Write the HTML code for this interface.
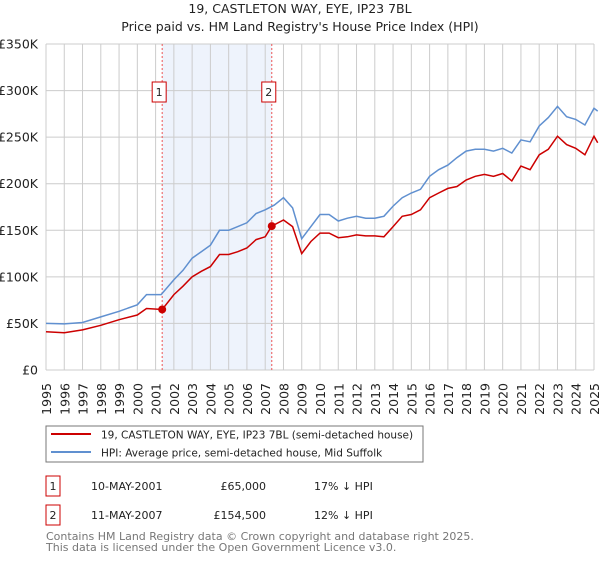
<!DOCTYPE html>
<html><head><meta charset="utf-8"><style>
body{margin:0;background:#fff;font-family:"Liberation Sans","DejaVu Sans",sans-serif;}
svg text{font-family:"DejaVu Sans","Liberation Sans",sans-serif;}
</style></head><body>
<svg id="chart" width="600" height="560" xmlns="http://www.w3.org/2000/svg">
<text x="300" y="13" text-anchor="middle" font-size="12.5" fill="#222">19, CASTLETON WAY, EYE, IP23 7BL</text>
<text x="300" y="31" text-anchor="middle" font-size="12.5" fill="#222">Price paid vs. HM Land Registry's House Price Index (HPI)</text>
<g id="plot"></g>
<g>
<rect x="46" y="426" width="377" height="36" fill="#fff" stroke="#777"/>
<line x1="51" y1="434" x2="91" y2="434" stroke="#cc0000" stroke-width="2"/>
<text x="101" y="438.5" font-size="10.5" fill="#222">19, CASTLETON WAY, EYE, IP23 7BL (semi-detached house)</text>
<line x1="51" y1="452" x2="91" y2="452" stroke="#6090d0" stroke-width="2"/>
<text x="101" y="456.5" font-size="10.5" fill="#222">HPI: Average price, semi-detached house, Mid Suffolk</text>
</g>
<g font-size="11" fill="#222">
<rect x="46" y="476" width="14" height="20" fill="#fff" stroke="#cc0000"/>
<text x="53" y="490" text-anchor="middle">1</text>
<text x="91" y="490">10-MAY-2001</text>
<text x="266" y="490" text-anchor="end">£65,000</text>
<text x="314" y="490">17% ↓ HPI</text>
<rect x="46" y="505" width="14" height="20" fill="#fff" stroke="#cc0000"/>
<text x="53" y="519" text-anchor="middle">2</text>
<text x="91" y="519">11-MAY-2007</text>
<text x="266" y="519" text-anchor="end">£154,500</text>
<text x="314" y="519">12% ↓ HPI</text>
</g>
<text x="46" y="540" font-size="11" fill="#777">Contains HM Land Registry data © Crown copyright and database right 2025.</text>
<text x="46" y="551" font-size="11" fill="#777">This data is licensed under the Open Government Licence v3.0.</text>
</svg>
<script>
const hpiYears=[1995,1996,1997,1998,1999,2000,2000.5,2001.3,2002,2002.5,2003,2003.5,2004,2004.5,2005,2005.5,2006,2006.5,2007,2007.5,2008,2008.5,2009,2009.5,2010,2010.5,2011,2011.5,2012,2012.5,2013,2013.5,2014,2014.5,2015,2015.5,2016,2016.5,2017,2017.5,2018,2018.5,2019,2019.5,2020,2020.5,2021,2021.5,2022,2022.5,2023,2023.5,2024,2024.5,2025,2025.2];
const hpiValues=[50,49.5,51,57,63,70,81,81,97,107,120,127,134,150,150,154,158,168,172,177,185,174,141,154,167,167,160,163,165,163,163,165,176,185,190,194,208,215,220,228,235,237,237,235,238,233,247,245,262,271,283,272,269,263,281,278];
const priceYears=[1995,1996,1997,1998,1999,2000,2000.5,2001.36,2002,2002.5,2003,2003.5,2004,2004.5,2005,2005.5,2006,2006.5,2007,2007.36,2008,2008.5,2009,2009.5,2010,2010.5,2011,2011.5,2012,2012.5,2013,2013.5,2014,2014.5,2015,2015.5,2016,2016.5,2017,2017.5,2018,2018.5,2019,2019.5,2020,2020.5,2021,2021.5,2022,2022.5,2023,2023.5,2024,2024.5,2025,2025.2];
const priceValues=[41,40,43,48,54,59,66,65,81,90,100,106,111,124,124,127,131,140,143,154.5,161,154,125,138,147,147,142,143,145,144,144,143,154,165,167,172,185,190,195,197,204,208,210,208,211,203,219,215,231,237,251,242,238,231,251,244];
const saleYears=[2001.36,2007.36];
const saleValues=[65,154.5];
const saleLabels=["1","2"];
const yTicks=[0,50,100,150,200,250,300,350];
const yTickLabels=["£0","£50K","£100K","£150K","£200K","£250K","£300K","£350K"];
const xTicks=[1995,1996,1997,1998,1999,2000,2001,2002,2003,2004,2005,2006,2007,2008,2009,2010,2011,2012,2013,2014,2015,2016,2017,2018,2019,2020,2021,2022,2023,2024,2025];

const X0=46,X1=594,Y0=370,Y1=44;
const xs=v=>X0+(v-1995)/30*(X1-X0);
const ys=v=>Y0-v/350*(Y0-Y1);
const NS="http://www.w3.org/2000/svg";
const g=document.getElementById('plot');
function mk(t,a){const e=document.createElementNS(NS,t);for(const k in a)e.setAttribute(k,a[k]);g.appendChild(e);return e;}

const shade=mk('rect',{x:xs(saleYears[0]),y:Y1,width:xs(saleYears[1])-xs(saleYears[0]),height:Y0-Y1,fill:'#eef3fc'});



xTicks.forEach(t=>{
 const l=mk('line',{x1:xs(t),x2:xs(t),y1:Y1,y2:Y0,stroke:'#ccc','stroke-width':1});
 
 
 const tx=mk('text',{x:0,y:0,'font-size':12.5,fill:'#222','text-anchor':'end',transform:`translate(${xs(t)+5},383) rotate(-90)`});
 tx.textContent=t;
 
 
});
yTicks.forEach((t,i)=>{
 const l=mk('line',{x1:X0,x2:X1,y1:ys(t),y2:ys(t),stroke:'#ccc','stroke-width':1});
 
 
 const tx=mk('text',{x:38,y:ys(t)+4.5,'font-size':12.5,fill:'#222','text-anchor':'end'});
 tx.textContent=yTickLabels[i];
 
 
});

saleYears.forEach((s,i)=>{
 const l=mk('line',{x1:xs(s),x2:xs(s),y1:Y1,y2:Y0,stroke:'#ee5555','stroke-width':1,'stroke-dasharray':'2,2'});
 
 
 const r=mk('rect',{x:xs(s)-10,y:82,width:14,height:20,fill:'#fff',stroke:'#cc0000'});
 
 
 const tx=mk('text',{x:xs(s)-3,y:96,'font-size':11,fill:'#222','text-anchor':'middle'});
 tx.textContent=saleLabels[i];
 
 
});

const hp=mk('path',{d:hpiYears.map((y,i)=>(i?'L':'M')+xs(y).toFixed(1)+','+ys(hpiValues[i]).toFixed(1)).join(''),fill:'none',stroke:'#6090d0','stroke-width':1.5});


const pp=mk('path',{d:priceYears.map((y,i)=>(i?'L':'M')+xs(y).toFixed(1)+','+ys(priceValues[i]).toFixed(1)).join(''),fill:'none',stroke:'#cc0000','stroke-width':1.5});


saleYears.forEach((s,i)=>{
 const c=mk('circle',{cx:xs(s),cy:ys(saleValues[i]),r:4,fill:'#cc0000'});
 
 
});
</script>
</body></html>
